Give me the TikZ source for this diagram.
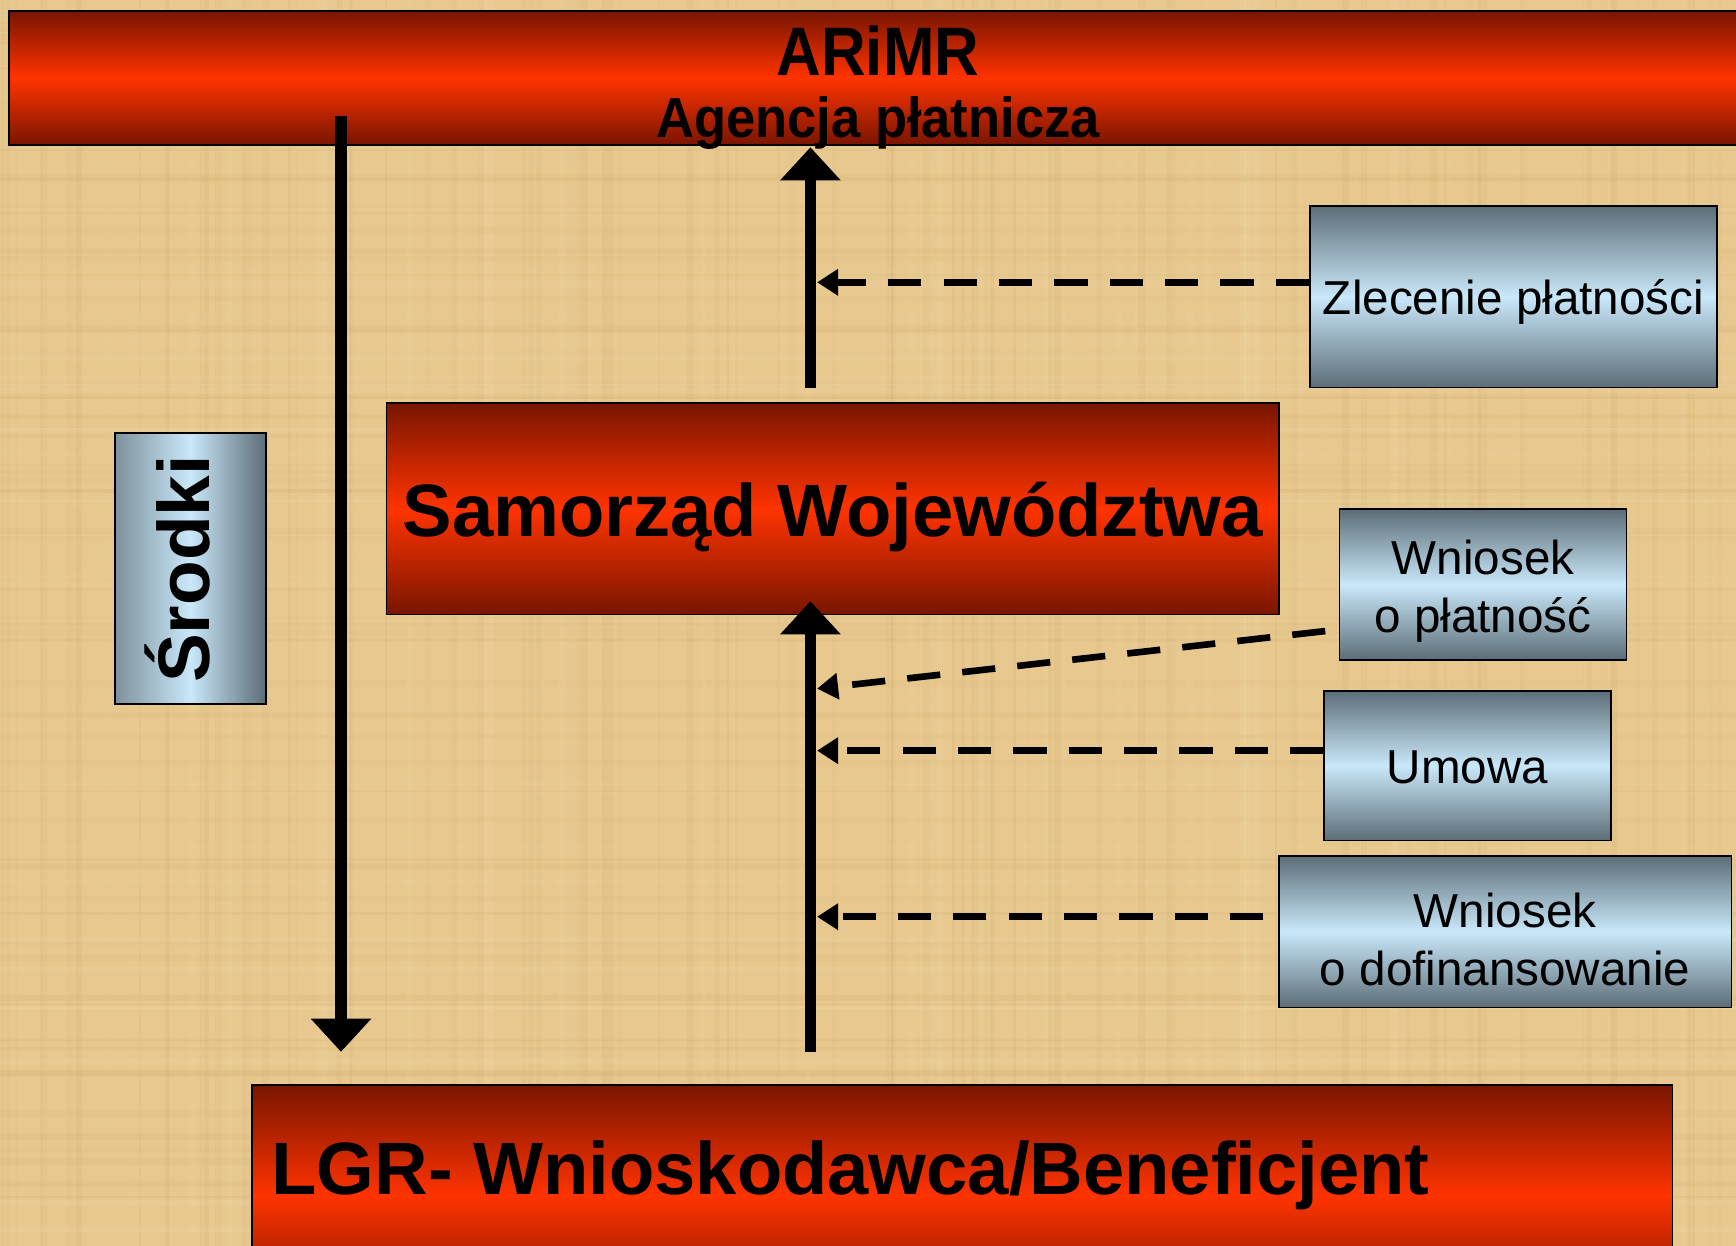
\documentclass[tikz,border=0pt]{standalone}
\usepackage{fontspec}
\setmainfont{Liberation Sans}
\usetikzlibrary{arrows.meta}
\definecolor{bg}{HTML}{E7C88E}
\definecolor{bgdark}{HTML}{C9A060}
\definecolor{bglight}{HTML}{F6E2B6}
\definecolor{reddark}{HTML}{781500}
\definecolor{redmid}{HTML}{FF3300}
\definecolor{bluedark}{HTML}{5C6D77}
\definecolor{blueleft}{HTML}{7E929C}
\definecolor{bluemid}{HTML}{C9E8FA}
\begin{document}
\begin{tikzpicture}[x=1pt,y=-1pt,
  redbox/.style={draw=black, line width=1.5pt, top color=reddark, bottom color=reddark, middle color=redmid, inner sep=0pt},
  bluebox/.style={draw=black, line width=1.5pt, top color=bluedark, bottom color=bluedark, middle color=bluemid, inner sep=0pt},
  btext/.style={inner sep=0pt, align=center, font=\fontsize{43}{53}\selectfont},
  bigtext/.style={inner sep=0pt, font=\fontsize{67}{67}\selectfont\bfseries},
  bigarrow/.style={line width=10pt, -{Triangle[width=53pt,length=30pt]}},
  dasharrow/.style={line width=6pt, dash pattern=on 30pt off 20pt, -{Triangle[width=23pt,length=19pt]}},
]
\useasboundingbox (0,0) rectangle (1568,1125);
\clip (0,0) rectangle (1568,1125);
\fill[bg] (0,0) rectangle (1568,1125);
% papyrus texture
\pgfmathsetseed{11}
\foreach \i in {1,...,160}{
  \pgfmathsetmacro{\xx}{rnd*1568}
  \pgfmathsetmacro{\ww}{1+rnd*7}
  \pgfmathsetmacro{\oo}{0.04+rnd*0.10}
  \pgfmathsetmacro{\cc}{rnd}
  \ifdim\cc pt<0.5pt
    \draw[bgdark, opacity=\oo, line width=\ww pt] (\xx,0) -- (\xx,1125);
  \else
    \draw[bglight, opacity=\oo, line width=\ww pt] (\xx,0) -- (\xx,1125);
  \fi
}
\foreach \i in {1,...,120}{
  \pgfmathsetmacro{\yy}{rnd*1125}
  \pgfmathsetmacro{\ww}{1+rnd*6}
  \pgfmathsetmacro{\oo}{0.04+rnd*0.09}
  \pgfmathsetmacro{\cc}{rnd}
  \ifdim\cc pt<0.5pt
    \draw[bgdark, opacity=\oo, line width=\ww pt] (0,\yy) -- (1568,\yy);
  \else
    \draw[bglight, opacity=\oo, line width=\ww pt] (0,\yy) -- (1568,\yy);
  \fi
}

% red boxes
\node[redbox, minimum width=1582pt, minimum height=121pt] (arimr) at (799,70.5) {};
\node[inner sep=0pt, font=\fontsize{62}{62}\selectfont\bfseries] (arimrt) at (793,46) {\scalebox{0.9}[1]{ARiMR}};
\node[inner sep=0pt, font=\fontsize{51}{51}\selectfont\bfseries] (agencja) at (793,111) {\scalebox{0.93}[1]{Agencja płatnicza}};

\node[redbox, minimum width=806pt, minimum height=191pt] (sam) at (752,459.5) {};
\node[bigtext] (samt) at (752,467) {Samorząd Województwa};

\node[redbox, minimum width=1283pt, minimum height=200pt, anchor=north west] (lgr) at (227,979) {};
\node[bigtext, anchor=west] (lgrt) at (245,1062) {LGR- Wnioskodawca/Beneficjent};

% blue boxes
\node[bluebox, minimum width=368pt, minimum height=164pt] (zl) at (1367,268) {};
\node[btext] (zlt) at ([yshift=-5pt]zl.center) {Zlecenie płatności};
\node[bluebox, minimum width=259pt, minimum height=136pt] (wp) at (1339.5,528) {};
\node[btext] (wpt) at ([yshift=-6pt]wp.center) {Wniosek\\o płatność};
\node[bluebox, minimum width=259pt, minimum height=135pt] (um) at (1325.5,691.5) {};
\node[btext] (umt) at ([yshift=-2pt]um.center) {Umowa};
\node[bluebox, minimum width=409pt, minimum height=137pt] (wd) at (1359.5,841.5) {};
\node[btext] (wdt) at ([yshift=-7pt]wd.center) {Wniosek\\o dofinansowanie};

\node[draw=black, line width=1.5pt, left color=blueleft, right color=bluedark, middle color=bluemid, minimum width=136pt, minimum height=245pt, inner sep=0pt] (sr) at (172,513.5) {};
\node[inner sep=0pt, rotate=90, font=\fontsize{66}{66}\selectfont\bfseries] (srt) at (160,514) {Środki};

% coordinates
\coordinate (a1s) at (308,105);
\coordinate (a1e) at (308,950);
\coordinate (a2s) at (732,350);
\coordinate (a2e) at (732,133);
\coordinate (a3s) at (732,950);
\coordinate (a3e) at (732,543);
\coordinate (d1e) at (738,255);
\coordinate (d2s) at (1197,570);
\coordinate (d2e) at (738,622);
\coordinate (d3e) at (738,678);
\coordinate (d4s) at (1141,828);
\coordinate (d4e) at (738,828);

% arrows
\draw[bigarrow] (a1s) -- (a1e);
\draw[bigarrow] (a2s) -- (a2e);
\draw[bigarrow] (a3s) -- (a3e);

\draw[dasharrow] ([yshift=13pt]zl.west) -- (d1e);
\draw[dasharrow] (d2s) -- (d2e);
\draw[dasharrow] ([yshift=13.5pt]um.west) -- (d3e);
\draw[dasharrow] (d4s) -- (d4e);
\end{tikzpicture}
\end{document}
